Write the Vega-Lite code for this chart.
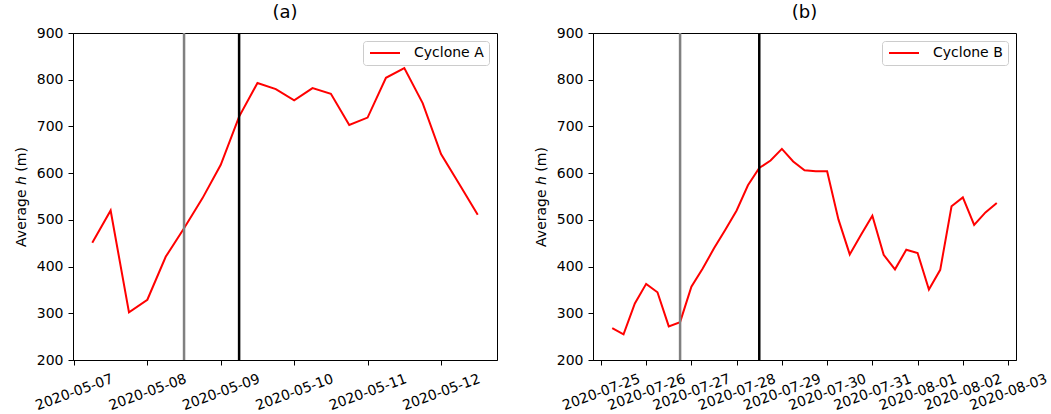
{
  "$schema": "https://vega.github.io/schema/vega-lite/v6.json",
  "padding": {"left": 13, "top": 3, "right": 0, "bottom": 0},
  "datasets": {
    "a": [
      {"time": "2020-05-07T06:00:00Z", "h": 451, "series": "Cyclone A"},
      {"time": "2020-05-07T12:00:00Z", "h": 520, "series": "Cyclone A"},
      {"time": "2020-05-07T18:00:00Z", "h": 302, "series": "Cyclone A"},
      {"time": "2020-05-08T00:00:00Z", "h": 329, "series": "Cyclone A"},
      {"time": "2020-05-08T06:00:00Z", "h": 421, "series": "Cyclone A"},
      {"time": "2020-05-08T12:00:00Z", "h": 482, "series": "Cyclone A"},
      {"time": "2020-05-08T18:00:00Z", "h": 546, "series": "Cyclone A"},
      {"time": "2020-05-09T00:00:00Z", "h": 618, "series": "Cyclone A"},
      {"time": "2020-05-09T06:00:00Z", "h": 721, "series": "Cyclone A"},
      {"time": "2020-05-09T12:00:00Z", "h": 793, "series": "Cyclone A"},
      {"time": "2020-05-09T18:00:00Z", "h": 780, "series": "Cyclone A"},
      {"time": "2020-05-10T00:00:00Z", "h": 756, "series": "Cyclone A"},
      {"time": "2020-05-10T06:00:00Z", "h": 782, "series": "Cyclone A"},
      {"time": "2020-05-10T12:00:00Z", "h": 770, "series": "Cyclone A"},
      {"time": "2020-05-10T18:00:00Z", "h": 703, "series": "Cyclone A"},
      {"time": "2020-05-11T00:00:00Z", "h": 719, "series": "Cyclone A"},
      {"time": "2020-05-11T06:00:00Z", "h": 804, "series": "Cyclone A"},
      {"time": "2020-05-11T12:00:00Z", "h": 825, "series": "Cyclone A"},
      {"time": "2020-05-11T18:00:00Z", "h": 750, "series": "Cyclone A"},
      {"time": "2020-05-12T00:00:00Z", "h": 641, "series": "Cyclone A"},
      {"time": "2020-05-12T06:00:00Z", "h": 576, "series": "Cyclone A"},
      {"time": "2020-05-12T12:00:00Z", "h": 511, "series": "Cyclone A"}
    ],
    "ea": [
      {"time": "2020-05-08T12:00:00Z", "kind": "gray"},
      {"time": "2020-05-09T06:00:00Z", "kind": "black"}
    ],
    "b": [
      {"time": "2020-07-25T06:00:00Z", "h": 268, "series": "Cyclone B"},
      {"time": "2020-07-25T12:00:00Z", "h": 255, "series": "Cyclone B"},
      {"time": "2020-07-25T18:00:00Z", "h": 321, "series": "Cyclone B"},
      {"time": "2020-07-26T00:00:00Z", "h": 363, "series": "Cyclone B"},
      {"time": "2020-07-26T06:00:00Z", "h": 345, "series": "Cyclone B"},
      {"time": "2020-07-26T12:00:00Z", "h": 272, "series": "Cyclone B"},
      {"time": "2020-07-26T18:00:00Z", "h": 281, "series": "Cyclone B"},
      {"time": "2020-07-27T00:00:00Z", "h": 357, "series": "Cyclone B"},
      {"time": "2020-07-27T06:00:00Z", "h": 396, "series": "Cyclone B"},
      {"time": "2020-07-27T12:00:00Z", "h": 439, "series": "Cyclone B"},
      {"time": "2020-07-27T18:00:00Z", "h": 479, "series": "Cyclone B"},
      {"time": "2020-07-28T00:00:00Z", "h": 520, "series": "Cyclone B"},
      {"time": "2020-07-28T06:00:00Z", "h": 574, "series": "Cyclone B"},
      {"time": "2020-07-28T12:00:00Z", "h": 611, "series": "Cyclone B"},
      {"time": "2020-07-28T18:00:00Z", "h": 627, "series": "Cyclone B"},
      {"time": "2020-07-29T00:00:00Z", "h": 652, "series": "Cyclone B"},
      {"time": "2020-07-29T06:00:00Z", "h": 625, "series": "Cyclone B"},
      {"time": "2020-07-29T12:00:00Z", "h": 606, "series": "Cyclone B"},
      {"time": "2020-07-29T18:00:00Z", "h": 604, "series": "Cyclone B"},
      {"time": "2020-07-30T00:00:00Z", "h": 604, "series": "Cyclone B"},
      {"time": "2020-07-30T06:00:00Z", "h": 501, "series": "Cyclone B"},
      {"time": "2020-07-30T12:00:00Z", "h": 426, "series": "Cyclone B"},
      {"time": "2020-07-30T18:00:00Z", "h": 468, "series": "Cyclone B"},
      {"time": "2020-07-31T00:00:00Z", "h": 509, "series": "Cyclone B"},
      {"time": "2020-07-31T06:00:00Z", "h": 425, "series": "Cyclone B"},
      {"time": "2020-07-31T12:00:00Z", "h": 394, "series": "Cyclone B"},
      {"time": "2020-07-31T18:00:00Z", "h": 436, "series": "Cyclone B"},
      {"time": "2020-08-01T00:00:00Z", "h": 429, "series": "Cyclone B"},
      {"time": "2020-08-01T06:00:00Z", "h": 351, "series": "Cyclone B"},
      {"time": "2020-08-01T12:00:00Z", "h": 393, "series": "Cyclone B"},
      {"time": "2020-08-01T18:00:00Z", "h": 529, "series": "Cyclone B"},
      {"time": "2020-08-02T00:00:00Z", "h": 548, "series": "Cyclone B"},
      {"time": "2020-08-02T06:00:00Z", "h": 489, "series": "Cyclone B"},
      {"time": "2020-08-02T12:00:00Z", "h": 516, "series": "Cyclone B"},
      {"time": "2020-08-02T18:00:00Z", "h": 536, "series": "Cyclone B"}
    ],
    "eb": [
      {"time": "2020-07-26T18:00:00Z", "kind": "gray"},
      {"time": "2020-07-28T12:00:00Z", "kind": "black"}
    ]
  },
  "config": {
    "font": "DejaVu Sans",
    "view": {"stroke": "black", "strokeWidth": 1},
    "axis": {
      "grid": false,
      "domainColor": "black",
      "tickColor": "black",
      "tickSize": 5,
      "labelFontSize": 14,
      "titleFontSize": 14,
      "labelColor": "black",
      "titleColor": "black",
      "titleFontWeight": "normal",
      "labelFont": "DejaVu Sans",
      "titleFont": "DejaVu Sans"
    },
    "title": {"fontSize": 18, "fontWeight": "normal", "offset": 0, "font": "DejaVu Sans", "color": "black"},
    "legend": {
      "title": null,
      "orient": "top-right",
      "offset": 8,
      "fillColor": "white",
      "strokeColor": "#cccccc",
      "cornerRadius": 3,
      "padding": 5,
      "symbolType": "M-1,0L5,0",
      "symbolSize": 100,
      "symbolStrokeWidth": 2,
      "labelFontSize": 14,
      "labelOffset": 32,
      "labelColor": "black",
      "labelFont": "DejaVu Sans"
    }
  },
  "bounds": "flush",
  "spacing": 96,
  "resolve": {"scale": {"color": "independent", "x": "independent"}, "legend": {"color": "independent"}},
  "hconcat": [
    {
      "width": 424,
      "height": 327,
      "title": "(a)",
      "layer": [
        {
          "data": {"name": "a"},
          "mark": {"type": "line", "strokeWidth": 2},
          "encoding": {
            "x": {
              "field": "time", "type": "temporal",
              "scale": {"type": "utc", "domain": [
                {"year": 2020, "month": 5, "date": 6, "hours": 23, "minutes": 42, "utc": true},
                {"year": 2020, "month": 5, "date": 12, "hours": 18, "minutes": 18, "utc": true}
              ]},
              "axis": {"title": null, "format": "%Y-%m-%d", "tickCount": {"interval": "day", "step": 1}, "labelAngle": -20, "labelAlign": "center", "labelBaseline": "middle", "labelPadding": 27, "labelOverlap": false, "labelFlush": false, "labelBound": false}
            },
            "y": {
              "field": "h", "type": "quantitative",
              "scale": {"domain": [200, 900], "nice": false, "zero": false},
              "axis": {"values": [200, 300, 400, 500, 600, 700, 800, 900], "title": "Average ℎ (m)", "labelPadding": 5, "titlePadding": 8}
            },
            "color": {"field": "series", "type": "nominal", "scale": {"range": ["#ff0000"]}}
          }
        },
        {
          "data": {"name": "ea"},
          "mark": {"type": "rule", "strokeWidth": 2.5},
          "encoding": {
            "x": {"field": "time", "type": "temporal"},
            "stroke": {"field": "kind", "type": "nominal", "scale": {"domain": ["gray", "black"], "range": ["#808080", "#000000"]}, "legend": null}
          }
        }
      ]
    },
    {
      "width": 423,
      "height": 327,
      "title": "(b)",
      "layer": [
        {
          "data": {"name": "b"},
          "mark": {"type": "line", "strokeWidth": 2},
          "encoding": {
            "x": {
              "field": "time", "type": "temporal",
              "scale": {"type": "utc", "domain": [
                {"year": 2020, "month": 7, "date": 24, "hours": 19, "minutes": 48, "utc": true},
                {"year": 2020, "month": 8, "date": 3, "hours": 4, "minutes": 12, "utc": true}
              ]},
              "axis": {"title": null, "format": "%Y-%m-%d", "tickCount": {"interval": "day", "step": 1}, "labelAngle": -20, "labelAlign": "center", "labelBaseline": "middle", "labelPadding": 27, "labelOverlap": false, "labelFlush": false, "labelBound": false}
            },
            "y": {
              "field": "h", "type": "quantitative",
              "scale": {"domain": [200, 900], "nice": false, "zero": false},
              "axis": {"values": [200, 300, 400, 500, 600, 700, 800, 900], "title": "Average ℎ (m)", "labelPadding": 5, "titlePadding": 8}
            },
            "color": {"field": "series", "type": "nominal", "scale": {"range": ["#ff0000"]}}
          }
        },
        {
          "data": {"name": "eb"},
          "mark": {"type": "rule", "strokeWidth": 2.5},
          "encoding": {
            "x": {"field": "time", "type": "temporal"},
            "stroke": {"field": "kind", "type": "nominal", "scale": {"domain": ["gray", "black"], "range": ["#808080", "#000000"]}, "legend": null}
          }
        }
      ]
    }
  ]
}
